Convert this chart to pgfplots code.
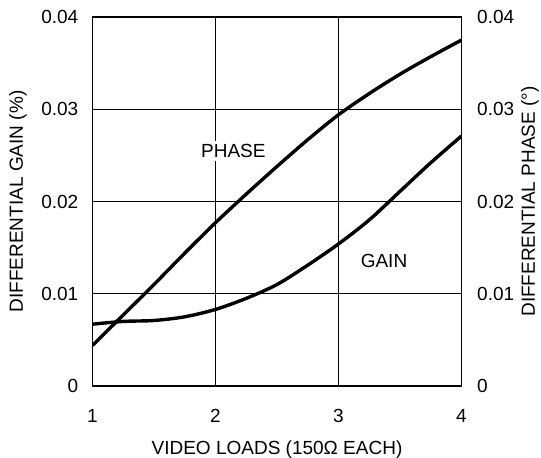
\documentclass[border=0pt]{standalone}
\usepackage{fontspec}
\setmainfont{Liberation Sans}
\usepackage{pgfplots}
\pgfplotsset{compat=1.18}

\pgfplotstableread{
x     y
1.00  0.0044
1.25  0.0077
1.50  0.0110
1.75  0.0144
2.00  0.0177
2.25  0.0208
2.50  0.0238
2.75  0.0267
3.00  0.0294
3.25  0.0317
3.50  0.0338
3.75  0.0357
4.00  0.0375
}\phase

\pgfplotstableread{
x     y
1.00  0.0067
1.25  0.0070
1.50  0.0071
1.75  0.0075
2.00  0.0083
2.25  0.0095
2.50  0.0110
2.75  0.0131
3.00  0.0154
3.25  0.0180
3.50  0.0211
3.75  0.0242
4.00  0.0271
}\gain

\begin{document}
\begin{tikzpicture}
\pgfplotsset{
  every axis/.append style={
    width=369pt, height=369pt, scale only axis,
    xmin=1, xmax=4, ymin=0, ymax=0.04,
    font=\fontsize{19}{22}\selectfont,
    major tick length=0pt,
    axis line style={line width=1.6pt},
    /pgf/number format/assume math mode=true,
    scaled y ticks=false,
    ytick={0,0.01,0.02,0.03,0.04},
    yticklabels={0,0.01,0.02,0.03,0.04},
  }
}
\begin{axis}[
  xtick={1,2,3,4},
  xticklabels={1,2,3,4},
  grid=major,
  grid style={black, line width=1.1pt},
  xticklabel style={anchor=center, yshift=-30pt, inner sep=0pt},
  yticklabel style={anchor=east, xshift=-14pt, inner sep=0pt},
  xlabel={VIDEO LOADS (150Ω EACH)},
  xlabel style={at={(axis description cs:0.5,-0.173)}, anchor=center},
  ylabel={DIFFERENTIAL GAIN (\%)},
  ylabel style={at={(axis description cs:-0.202,0.5)}, anchor=center},
]
\addplot[black, line width=3.4pt, smooth] table[x=x,y=y] {\phase};
\addplot[black, line width=3.4pt, smooth] table[x=x,y=y] {\gain};
\node[fill=white, inner sep=3pt] at (axis cs:2.145,0.02547) {PHASE};
\node[fill=white, inner sep=2pt] at (axis cs:3.37,0.01351) {GAIN};
\end{axis}
\begin{axis}[
  axis y line*=right,
  axis x line=none,
  yticklabel style={anchor=west, xshift=15.5pt, inner sep=0pt},
  ylabel={DIFFERENTIAL PHASE (°)},
  ylabel style={at={(axis description cs:1.1856,0.5)}, anchor=center},
]
\addplot[draw=none] coordinates {(1,0) (4,0.04)};
\end{axis}
\pgfresetboundingbox
\path ([shift={(-92.5pt,-72pt)}]current axis.south west) rectangle ([shift={(79.5pt,17pt)}]current axis.north east);
\end{tikzpicture}
\end{document}
